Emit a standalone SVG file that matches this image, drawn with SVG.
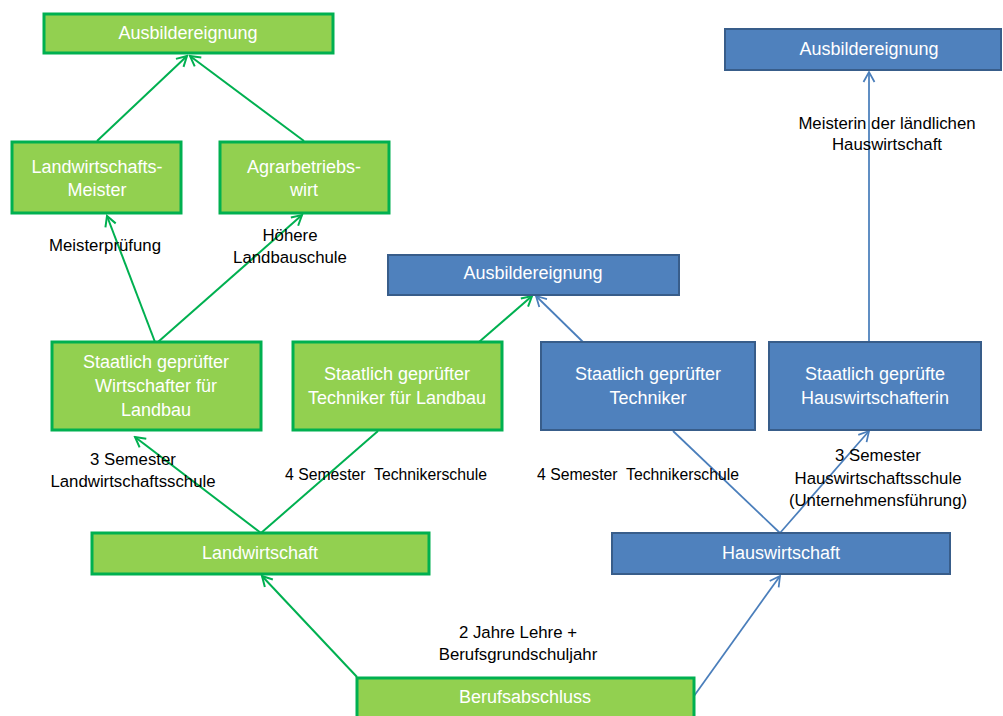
<svg xmlns="http://www.w3.org/2000/svg" width="1003" height="716" viewBox="0 0 1003 716">
<style>
.g{fill:#92D050;stroke:#00B050;stroke-width:3}
.b{fill:#4F81BD;stroke:#385D8A;stroke-width:2}
.bt{font-family:"Liberation Sans",Arial,sans-serif;font-size:18px;fill:#fff;text-anchor:middle}
.lt{font-family:"Liberation Sans",Arial,sans-serif;font-size:16.8px;fill:#000;text-anchor:middle;white-space:pre}
.cg{stroke:#00B050;stroke-width:2;fill:none}
.cb{stroke:#4A7EBB;stroke-width:1.75;fill:none}
</style>
<defs>
<marker id="ag" markerUnits="userSpaceOnUse" markerWidth="14" markerHeight="14" viewBox="0 0 14 14" refX="12" refY="7" orient="auto">
<path d="M2,1.5 L12,7 L2,12.5" fill="none" stroke="#00B050" stroke-width="2"/>
</marker>
<marker id="ab" markerUnits="userSpaceOnUse" markerWidth="14" markerHeight="14" viewBox="0 0 14 14" refX="12" refY="7" orient="auto">
<path d="M2,1.5 L12,7 L2,12.5" fill="none" stroke="#4A7EBB" stroke-width="1.75"/>
</marker>
</defs>
<rect width="1003" height="716" fill="#fff"/>
<g id="connectors">
<line class="cg" x1="97" y1="141" x2="187" y2="56" marker-end="url(#ag)"/>
<line class="cg" x1="304" y1="141" x2="190" y2="56" marker-end="url(#ag)"/>
<line class="cg" x1="155" y1="342" x2="107" y2="216" marker-end="url(#ag)"/>
<line class="cg" x1="158" y1="342" x2="302" y2="215" marker-end="url(#ag)"/>
<line class="cg" x1="261" y1="533" x2="135" y2="437" marker-end="url(#ag)"/>
<line class="cg" x1="261" y1="533" x2="378" y2="431"/>
<line class="cg" x1="479" y1="342" x2="532" y2="296" marker-end="url(#ag)"/>
<line class="cb" x1="583" y1="342" x2="536" y2="296" marker-end="url(#ab)"/>
<line class="cb" x1="869" y1="342" x2="869" y2="72" marker-end="url(#ab)"/>
<line class="cb" x1="780" y1="533" x2="673" y2="431"/>
<line class="cb" x1="780" y1="533" x2="869" y2="431" marker-end="url(#ab)"/>
<line class="cg" x1="357" y1="677" x2="262" y2="576" marker-end="url(#ag)"/>
<line class="cb" x1="694" y1="696" x2="780" y2="576" marker-end="url(#ab)"/>
</g>
<g id="n-ausb-green"><rect class="g" x="44" y="14" width="289" height="39"/><text class="bt" x="188" y="39">Ausbildereignung</text></g>
<g id="n-lwmeister"><rect class="g" x="12" y="142" width="169" height="71"/><text class="bt" x="97" y="173">Landwirtschafts-</text><text class="bt" x="97" y="196">Meister</text></g>
<g id="n-agrar"><rect class="g" x="220" y="142" width="169" height="71"/><text class="bt" x="304" y="173">Agrarbetriebs-</text><text class="bt" x="304" y="196">wirt</text></g>
<g id="n-wirtschafter"><rect class="g" x="52" y="342" width="209" height="88"/><text class="bt" x="156" y="368">Staatlich geprüfter</text><text class="bt" x="156" y="392">Wirtschafter für</text><text class="bt" x="156" y="416">Landbau</text></g>
<g id="n-techlandbau"><rect class="g" x="293" y="342" width="209" height="88"/><text class="bt" x="397" y="380">Staatlich geprüfter</text><text class="bt" x="397" y="404">Techniker für Landbau</text></g>
<g id="n-ausb-mid"><rect class="b" x="388" y="255" width="291" height="40"/><text class="bt" x="533" y="279">Ausbildereignung</text></g>
<g id="n-techniker"><rect class="b" x="541" y="342" width="214" height="88"/><text class="bt" x="648" y="380">Staatlich geprüfter</text><text class="bt" x="648" y="404">Techniker</text></g>
<g id="n-hauswirtschafterin"><rect class="b" x="769" y="342" width="212" height="88"/><text class="bt" x="875" y="380">Staatlich geprüfte</text><text class="bt" x="875" y="404">Hauswirtschafterin</text></g>
<g id="n-ausb-top"><rect class="b" x="725" y="29" width="276" height="41"/><text class="bt" x="869" y="55">Ausbildereignung</text></g>
<g id="n-landwirtschaft"><rect class="g" x="92" y="533" width="337" height="41"/><text class="bt" x="260" y="559">Landwirtschaft</text></g>
<g id="n-hauswirtschaft"><rect class="b" x="612" y="533" width="338" height="41"/><text class="bt" x="781" y="559">Hauswirtschaft</text></g>
<g id="n-berufsabschluss"><rect class="g" x="357" y="678" width="337" height="45"/><text class="bt" x="525" y="703">Berufsabschluss</text></g>
<g id="labels">
<text class="lt" x="105" y="251">Meisterprüfung</text>
<text class="lt" x="290" y="241">Höhere</text>
<text class="lt" x="290" y="263">Landbauschule</text>
<text class="lt" x="133" y="465">3 Semester</text>
<text class="lt" x="133" y="487">Landwirtschaftsschule</text>
<text class="lt" x="386" y="480" textLength="202" lengthAdjust="spacingAndGlyphs">4 Semester  Technikerschule</text>
<text class="lt" x="638" y="480" textLength="202" lengthAdjust="spacingAndGlyphs">4 Semester  Technikerschule</text>
<text class="lt" x="878" y="461">3 Semester</text>
<text class="lt" x="878" y="484">Hauswirtschaftsschule</text>
<text class="lt" x="878" y="506">(Unternehmensführung)</text>
<text class="lt" x="887" y="129">Meisterin der ländlichen</text>
<text class="lt" x="887" y="150">Hauswirtschaft</text>
<text class="lt" x="518" y="638">2 Jahre Lehre +</text>
<text class="lt" x="518" y="660">Berufsgrundschuljahr</text>
</g>
</svg>
